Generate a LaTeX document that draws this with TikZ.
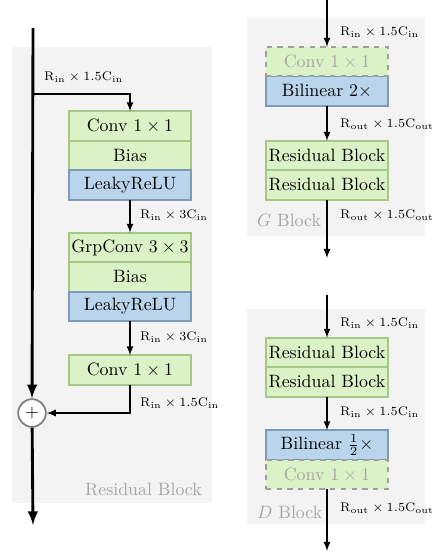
\documentclass[tikz,border=0pt]{standalone}
\usepackage{amsmath}
\usepackage{amssymb}
\usepackage{xcolor}
\usepackage{tikz}
\usetikzlibrary{positioning}

\definecolor{boxgreen}{RGB}{218,242,197}
\definecolor{linegreen}{RGB}{165,200,135}
\definecolor{boxblue}{RGB}{186,213,235}
\definecolor{lineblue}{RGB}{125,155,185}
\definecolor{panelgray}{RGB}{243,243,243}
\definecolor{textgray}{RGB}{165,165,165}

\begin{document}
\begin{tikzpicture}[x = 0.56pt, y = -0.56pt,
	layer/.style = {rectangle, outer sep = 0pt, minimum width = 68.5pt, minimum height = 16.5pt, line width = 1pt, inner sep = 0pt},
	green/.style = {layer, fill = boxgreen, draw = linegreen},
	blue/.style = {layer, fill = boxblue, draw = lineblue},
	opt/.style = {layer, fill = boxgreen, draw = gray!75, dashed, text = textgray},
	flow/.style = {-latex, line width = 0.75pt},
	main/.style = {-latex, line width = 1.6pt},
	dims/.style = {anchor = west, font = \fontsize{7}{8}\selectfont, inner sep = 1pt},
	title/.style = {text = textgray, inner sep = 1pt}]
	\useasboundingbox (0,0) rectangle (434,555);

	% residual block
	\fill[panelgray] (12,47) rectangle (212,503);
	\node[green] (conva) at (130,126) {Conv $1\times 1$};
	\node[green, below = 0pt of conva] (biasa) {Bias};
	\node[blue, below = 0pt of biasa] (relua) {LeakyReLU};
	\node[green] (grpconv) at (130,247.5) {GrpConv $3\times 3$};
	\node[green, below = 0pt of grpconv] (biasb) {Bias};
	\node[blue, below = 0pt of biasb] (relub) {LeakyReLU};
	\node[green] (convb) at (130,370) {Conv $1\times 1$};
	\node[circle, draw = gray, fill = white, line width = 1pt, minimum size = 15.5pt, inner sep = 0pt] (add) at (32,413) {$+$};
	\coordinate (resin) at (33,28);
	\coordinate (split) at (33,94);
	\coordinate (resout) at (33,525);
	\draw[main] (resin) -- (add);
	\draw[main] (add) -- (resout);
	\draw[flow] (split) -| (conva);
	\draw[flow] (relua) -- (grpconv);
	\draw[flow] (relub) -- (convb);
	\draw[flow] (convb) |- (add);
	\node[dims] (dima) at (42,77) {$\mathrm{R_{in}}\times 1.5\mathrm{C_{in}}$};
	\node[dims] (dimb) at (138,215) {$\mathrm{R_{in}}\times 3\mathrm{C_{in}}$};
	\node[dims] (dimc) at (138,337) {$\mathrm{R_{in}}\times 3\mathrm{C_{in}}$};
	\node[dims] (dimd) at (138,403) {$\mathrm{R_{in}}\times 1.5\mathrm{C_{in}}$};
	\node[title, anchor = east] (restitle) at (204,489) {Residual Block};

	% G block
	\fill[panelgray] (247,18) rectangle (425,236);
	\node[blue] (gup) at (327,91) {Bilinear $2\times$};
	\node[opt, above = 0pt of gup] (gconv) {Conv $1\times 1$};
	\node[green] (gresa) at (327,155.5) {Residual Block};
	\node[green, below = 0pt of gresa] (gresb) {Residual Block};
	\coordinate (gin) at (327,0);
	\coordinate (gout) at (327,258);
	\draw[flow] (gin) -- (gconv);
	\draw[flow] (gup) -- (gresa);
	\draw[flow] (gresb) -- (gout);
	\node[dims] (gdima) at (338,32) {$\mathrm{R_{in}}\times 1.5\mathrm{C_{in}}$};
	\node[dims] (gdimb) at (338,124) {$\mathrm{R_{out}}\times 1.5\mathrm{C_{out}}$};
	\node[dims] (gdimc) at (338,215) {$\mathrm{R_{out}}\times 1.5\mathrm{C_{out}}$};
	\node[title, anchor = west] (gtitle) at (255,220) {$G$ Block};

	% D block
	\fill[panelgray] (247,309) rectangle (425,524);
	\node[green] (dresa) at (327,352.5) {Residual Block};
	\node[green, below = 0pt of dresa] (dresb) {Residual Block};
	\node[blue] (ddown) at (327,445) {Bilinear $\frac{1}{2}\times$};
	\node[opt, below = 0pt of ddown] (dconv) {Conv $1\times 1$};
	\coordinate (din) at (327,295);
	\coordinate (dout) at (327,551);
	\draw[flow] (din) -- (dresa);
	\draw[flow] (dresb) -- (ddown);
	\draw[flow] (dconv) -- (dout);
	\node[dims] (ddima) at (338,323) {$\mathrm{R_{in}}\times 1.5\mathrm{C_{in}}$};
	\node[dims] (ddimb) at (338,412) {$\mathrm{R_{in}}\times 1.5\mathrm{C_{in}}$};
	\node[dims] (ddimc) at (338,508) {$\mathrm{R_{out}}\times 1.5\mathrm{C_{out}}$};
	\node[title, anchor = west] (dtitle) at (255,512) {$D$ Block};
\end{tikzpicture}
\end{document}
